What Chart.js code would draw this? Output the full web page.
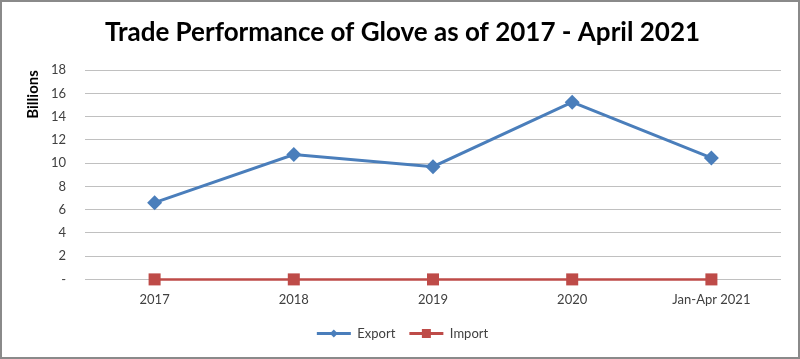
<!DOCTYPE html>
<html>
<head>
<meta charset="utf-8">
<script src="https://cdn.jsdelivr.net/npm/chart.js@4.4.1/dist/chart.umd.min.js"></script>
<style>
  html, body { margin: 0; padding: 0; background: #fff; }
  #wrap { position: relative; width: 800px; height: 359px; }
  #frame { position: absolute; left: 0; top: 0; width: 800px; height: 359px; box-sizing: border-box; border: 2px solid #8a8a8a; pointer-events: none; }
</style>
</head>
<body>
<div id="wrap">
  <canvas id="chartGlove" width="800" height="359"></canvas>
  <div id="frame"></div>
</div>
<script>
// data
const categories = ["2017", "2018", "2019", "2020", "Jan-Apr 2021"];
const exportValues = [6.6, 10.75, 9.7, 15.25, 10.45];
const importValues = [0, 0, 0, 0, 0];
const yTicks = [0, 2, 4, 6, 8, 10, 12, 14, 16, 18];

const blue = "#4a7ebb";
const red = "#be4b48";

// gambar marker di tengah garis legend (gaya Excel)
const legendMarkers = {
  id: "legendMarkers",
  afterDraw(chart) {
    const boxes = chart.legend.legendHitBoxes;
    const ctx = chart.ctx;
    chart.data.datasets.forEach((ds, i) => {
      const hb = boxes[i];
      if (!hb) return;
      const cx = hb.left + 17;
      const cy = hb.top + hb.height / 2;
      ctx.save();
      ctx.fillStyle = ds.borderColor;
      ctx.beginPath();
      if (ds.pointStyle === "rectRot") {
        ctx.moveTo(cx, cy - 4);
        ctx.lineTo(cx + 4, cy);
        ctx.lineTo(cx, cy + 4);
        ctx.lineTo(cx - 4, cy);
      } else {
        ctx.rect(cx - 4.5, cy - 4.5, 9, 9);
      }
      ctx.closePath();
      ctx.fill();
      ctx.restore();
    });
  },
};

const ctx = document.getElementById("chartGlove").getContext("2d");
new Chart(ctx, {
  type: "line",
  data: {
    labels: categories,
    datasets: [
      {
        label: "Export",
        data: exportValues,
        borderColor: blue,
        backgroundColor: blue,
        borderWidth: 3,
        pointStyle: "rectRot",
        pointRadius: 7.5,
        pointBorderWidth: 0,
        tension: 0,
        clip: false,
      },
      {
        label: "Import",
        data: importValues,
        borderColor: red,
        backgroundColor: red,
        borderWidth: 2.5,
        pointStyle: "rect",
        pointRadius: 8.5,
        pointBorderWidth: 0,
        tension: 0,
        clip: false,
      },
    ],
  },
  options: {
    responsive: false,
    animation: false,
    layout: { padding: { top: 12, left: 24, right: 19, bottom: 9 } },
    plugins: {
      title: {
        display: true,
        text: "Trade Performance of Glove as of 2017 - April 2021",
        color: "#000",
        font: { family: "Lato", size: 26, weight: "bold" },
        padding: { top: 5, bottom: 22 },
      },
      legend: {
        position: "bottom",
        labels: {
          color: "#404040",
          font: { family: "Lato", size: 13 },
          boxWidth: 34,
          boxHeight: 3,
          padding: 14,
          generateLabels(chart) {
            return chart.data.datasets.map((ds, i) => ({
              text: ds.label,
              fillStyle: ds.borderColor,
              strokeStyle: ds.borderColor,
              lineWidth: 0,
              fontColor: "#404040",
              datasetIndex: i,
            }));
          },
        },
      },
      tooltip: { enabled: false },
    },
    scales: {
      x: {
        offset: true,
        grid: { display: false },
        border: { display: false },
        ticks: {
          color: "#404040",
          font: { family: "Lato", size: 13 },
          padding: 5,
          maxRotation: 0,
        },
      },
      y: {
        min: 0,
        max: 18,
        afterBuildTicks(scale) {
          scale.ticks = yTicks.map((v) => ({ value: v }));
        },
        afterFit(scale) {
          scale.width = 61;
        },
        grid: { color: "#c0c0c0", lineWidth: 1, drawTicks: false },
        border: { display: false },
        ticks: {
          color: "#404040",
          font: { family: "Lato", size: 13 },
          padding: 19,
          callback: (v) => (v === 0 ? "-" : v),
        },
        title: {
          display: true,
          text: "Billions",
          align: "end",
          color: "#000",
          font: { family: "Lato", size: 15, weight: "bold" },
          padding: { top: 0, bottom: 8 },
        },
      },
    },
  },
  plugins: [legendMarkers],
});
</script>
</body>
</html>
